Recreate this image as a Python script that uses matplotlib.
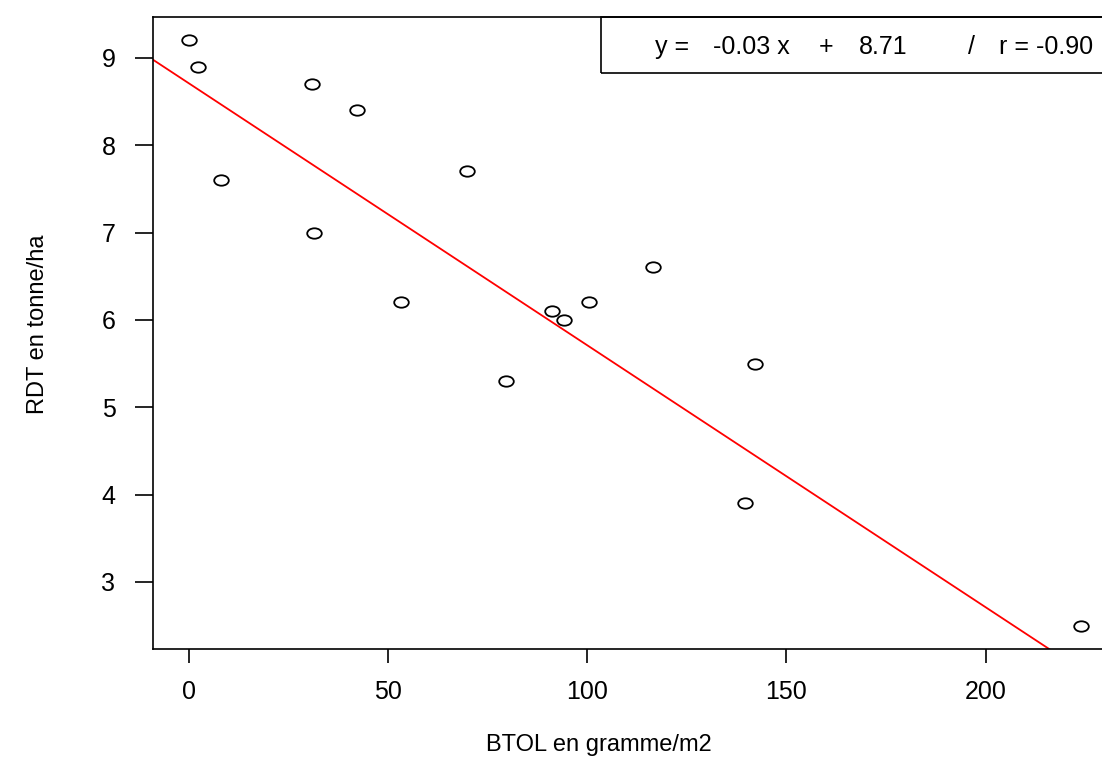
import numpy as np
import matplotlib.pyplot as plt
from matplotlib.path import Path
from matplotlib.transforms import Affine2D
from matplotlib.patches import Rectangle

plt.rcParams['font.family'] = ['Liberation Sans', 'DejaVu Sans']

# BTOL (g/m2) et rendement (t/ha)
btol = [0, 2.3, 8.0, 30.9, 31.4, 42.2, 53.3, 69.8, 79.6, 91.2, 94.2, 100.5, 116.6, 139.7, 142.0, 223.9]
rdt = [9.2, 8.9, 7.6, 8.7, 7.0, 8.4, 6.2, 7.7, 5.3, 6.1, 6.0, 6.2, 6.6, 3.9, 5.5, 2.5]

# droite de regression
pente = -0.03
ordonnee = 8.71
r = -0.90

fig = plt.figure(figsize=(11.02, 7.6), dpi=100)
W, H = 1102, 760
ax = fig.add_axes([153 / W, (H - 649) / H, (1117 - 153) / W, (649 - 17) / H])

# cercle un peu aplati comme symbole
ellipse = Path.unit_circle().transformed(Affine2D().scale(1.4, 1.0))
ax.plot(btol, rdt, linestyle='none', marker=ellipse, markersize=10.5,
        markerfacecolor='none', markeredgecolor='black', markeredgewidth=1.3)

ax.axline((0, ordonnee), slope=pente, color='red', linewidth=1.3)

ax.set_xlim(-8.96, 232.96)
ax.set_ylim(2.232, 9.468)
ax.set_xticks([0, 50, 100, 150, 200])
ax.set_yticks([3, 4, 5, 6, 7, 8, 9])
ax.tick_params(axis='both', labelsize=18, width=1.2, direction='out')
ax.tick_params(axis='x', length=10, pad=12)
ax.tick_params(axis='y', length=13, pad=14)
for s in ax.spines.values():
    s.set_linewidth(1.2)

fig.text(38 / W, 1 - 324 / H, 'RDT en tonne/ha', rotation=90, fontsize=17,
         ha='center', va='center')
fig.text(599 / W, 1 - 745 / H, 'BTOL en gramme/m2', fontsize=17,
         ha='center', va='center')

# cadre de la legende
fig.patches.append(Rectangle((601 / W, 1 - 73 / H), 600 / W, 56 / H,
                             transform=fig.transFigure, fill=False,
                             edgecolor='black', linewidth=1.2))
morceaux = ['y =', '%.2f x' % pente, '+', '%.2f' % ordonnee, '/', 'r = %.2f' % r]
centres = [672, 751, 826, 883, 972, 1046]
for txt, x in zip(morceaux, centres):
    fig.text(x / W, 1 - 47 / H, txt, fontsize=18, ha='center', va='center')

fig.savefig('out.png', dpi=100)
